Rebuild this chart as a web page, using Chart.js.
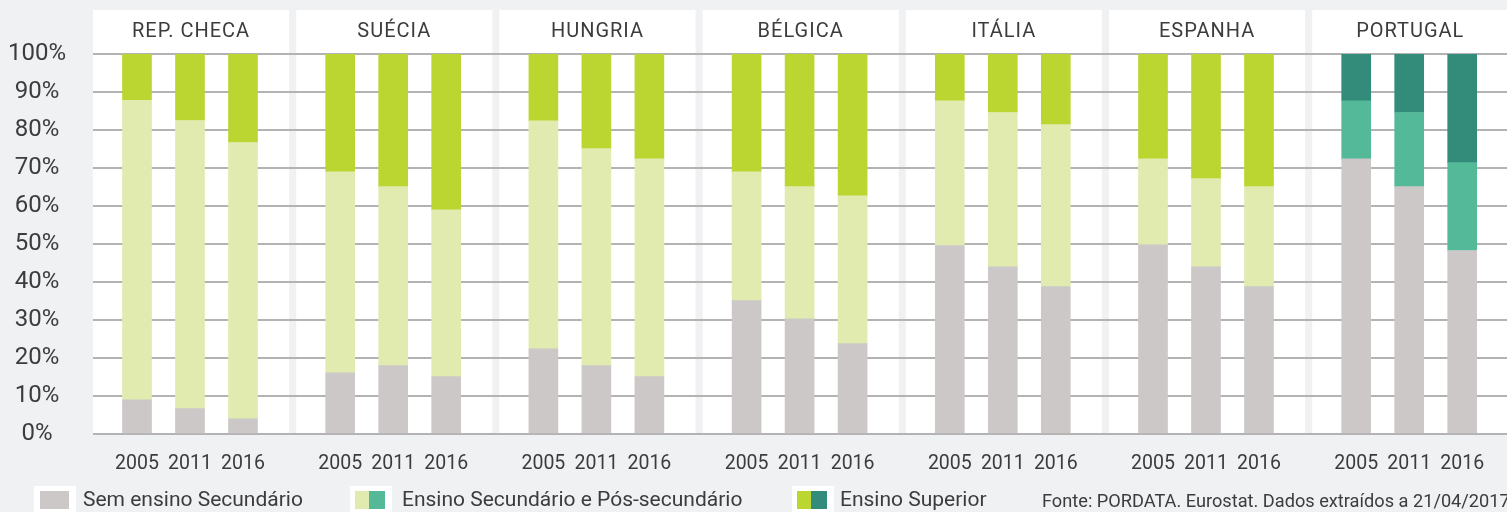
<!DOCTYPE html>
<html>
<head>
<meta charset="utf-8">
<script src="https://cdn.jsdelivr.net/npm/chart.js@4.4.1/dist/chart.umd.min.js"></script>
<style>
  body { margin: 0; background: #f0f1f3; overflow: hidden; font-family: Roboto, sans-serif; }
  #wrap { position: relative; width: 1507px; height: 512px; }
  canvas { position: absolute; left: 0; top: 0; }
  .leg { position: absolute; top: 486px; height: 30px; background: #fff; }
  .sw { position: absolute; top: 5px; height: 18px; }
  .txt { position: absolute; top: 487px; font-size: 21px; color: #3c3c3c; white-space: nowrap; }
</style>
</head>
<body>
<div id="wrap">
  <canvas id="graph1" width="1507" height="512"></canvas>
  <div class="leg" style="left:34px;width:42px"><div class="sw" style="left:6px;width:29px;background:#cbc8c7"></div></div>
  <div class="txt" style="left:83px">Sem ensino Secundário</div>
  <div class="leg" style="left:350px;width:42px"><div class="sw" style="left:5px;width:14px;background:#e1ebb0"></div><div class="sw" style="left:19px;width:16px;background:#53b999"></div></div>
  <div class="txt" style="left:402px">Ensino Secundário e Pós-secundário</div>
  <div class="leg" style="left:792px;width:42px"><div class="sw" style="left:5px;width:14px;background:#bbd531"></div><div class="sw" style="left:19px;width:16px;background:#338b79"></div></div>
  <div class="txt" style="left:840px">Ensino Superior</div>
  <div class="txt" style="left:1042px;top:490px;font-size:18.2px">Fonte: PORDATA. Eurostat. Dados extraídos a 21/04/2017</div>
</div>
<script>
var countries = ['REP. CHECA', 'SUÉCIA', 'HUNGRIA', 'BÉLGICA', 'ITÁLIA', 'ESPANHA', 'PORTUGAL'];
var years = ['2005', '2011', '2016'];

// % da população, por país e ano (2005, 2011, 2016)
var semSecundario = [9.0, 6.7, 4.0,  16.1, 18.0, 15.1,  22.4, 18.0, 15.1,  35.1, 30.3, 23.8,  49.6, 44.0, 38.8,  49.8, 44.0, 38.8,  72.4, 65.1, 48.3];
var secundario    = [78.8, 75.8, 72.7,  52.9, 47.1, 43.9,  60.0, 57.1, 57.3,  33.9, 34.8, 38.9,  38.1, 40.6, 42.6,  22.6, 23.2, 26.3,  15.3, 19.5, 23.1];
var superior      = [12.2, 17.5, 23.3,  31.0, 34.9, 41.0,  17.6, 24.9, 27.6,  31.0, 34.9, 37.3,  12.3, 15.4, 18.6,  27.6, 32.8, 34.9,  12.3, 15.4, 28.6];
var yTicks = [0, 10, 20, 30, 40, 50, 60, 70, 80, 90, 100];

// layout in "bar steps" (distance between two bars of a panel)
var panelStep = 3.834;
var firstBar = 0.83;
var panelWidth = 3.70;
var xMax = 1414 / 53;

var xPos = [];
countries.forEach(function (c, i) {
  years.forEach(function (y, j) { xPos.push(i * panelStep + firstBar + j); });
});

function pts(vals) {
  return vals.map(function (v, k) { return { x: xPos[k], y: v }; });
}
function cols(normal, pt) {
  return xPos.map(function (x, k) { return k >= 18 ? pt : normal; });
}

var panels = {
  id: 'panels',
  beforeDraw: function (chart) {
    var ctx = chart.ctx, xs = chart.scales.x, a = chart.chartArea;
    ctx.save();
    ctx.fillStyle = '#f0f1f3';
    ctx.fillRect(0, 0, chart.width, chart.height);
    ctx.fillStyle = '#ffffff';
    countries.forEach(function (c, i) {
      var l = xs.getPixelForValue(i * panelStep);
      var r = xs.getPixelForValue(i * panelStep + panelWidth);
      ctx.fillRect(l, 10, r - l, a.bottom - 10);
    });
    ctx.fillStyle = '#3c3c3c';
    ctx.font = '20px Roboto';
    ctx.letterSpacing = '1px';
    ctx.textAlign = 'center';
    ctx.textBaseline = 'middle';
    countries.forEach(function (c, i) {
      var m = xs.getPixelForValue(i * panelStep + panelWidth / 2);
      ctx.fillText(c, m, 32);
    });
    ctx.restore();
  }
};

var graph1 = document.getElementById('graph1').getContext('2d');
var chart = new Chart(graph1, {
  type: 'bar',
  data: {
    datasets: [{
      label: 'Sem ensino Secundário',
      data: pts(semSecundario),
      backgroundColor: cols('#cbc8c7', '#cbc8c7')
    }, {
      label: 'Ensino Secundário e Pós-secundário',
      data: pts(secundario),
      backgroundColor: cols('#e1ebb0', '#53b999')
    }, {
      label: 'Ensino Superior',
      data: pts(superior),
      backgroundColor: cols('#bbd531', '#338b79')
    }]
  },
  options: {
    responsive: false,
    animation: false,
    barThickness: 29,
    layout: { padding: { top: 54, right: 0, left: 0, bottom: 0 } },
    scales: {
      x: {
        type: 'linear',
        stacked: true,
        offset: false,
        min: 0,
        max: xMax,
        grid: { display: false },
        border: { display: false },
        afterBuildTicks: function (s) { s.ticks = xPos.map(function (v) { return { value: v }; }); },
        afterFit: function (s) { s.height = 78; },
        ticks: {
          autoSkip: false,
          maxRotation: 0,
          padding: 10,
          color: '#3c3c3c',
          font: { family: 'Roboto', size: 19.5 },
          callback: function (v, i) { return years[i % 3]; }
        }
      },
      y: {
        stacked: true,
        min: 0,
        max: 100,
        border: { display: false },
        grid: { color: '#b3b3b3', lineWidth: 2, drawTicks: false },
        afterBuildTicks: function (s) { s.ticks = yTicks.map(function (v) { return { value: v }; }); },
        afterFit: function (s) { s.width = 93; },
        ticks: {
          crossAlign: 'center',
          padding: 27,
          color: '#3c3c3c',
          font: { family: 'Roboto', size: 24 },
          callback: function (v) { return v + '%'; }
        }
      }
    },
    plugins: {
      legend: { display: false },
      tooltip: { enabled: false }
    }
  },
  plugins: [panels]
});
</script>
</body>
</html>
